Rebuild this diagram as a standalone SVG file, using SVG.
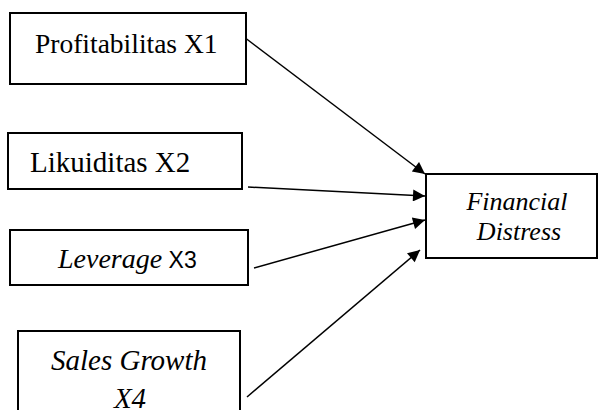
<svg xmlns="http://www.w3.org/2000/svg" width="598" height="410" viewBox="0 0 598 410">
<defs>
<style>
.box{fill:#fff;stroke:#000;stroke-width:2}
.t{font-family:"Liberation Serif","Times New Roman",serif;font-size:26px;fill:#000}
.i{font-style:italic}
.s{font-family:"Liberation Sans",Arial,sans-serif;font-size:23px;font-style:normal}
.c{stroke:#000;stroke-width:1.5;fill:none;marker-end:url(#ah)}
</style>
<marker id="ah" viewBox="0 0 10 10" refX="10" refY="5" markerWidth="15" markerHeight="12" markerUnits="userSpaceOnUse" orient="auto">
<path d="M0,0 L10,5 L0,10 Z" fill="#000"/>
</marker>
</defs>
<rect width="598" height="410" fill="#fff"/>
<g id="connectors">
<line class="c" x1="240" y1="34" x2="425" y2="174"/>
<line class="c" x1="248" y1="187" x2="425" y2="196"/>
<line class="c" x1="254" y1="268" x2="425" y2="220"/>
<line class="c" x1="247" y1="397" x2="420" y2="250"/>
</g>
<g id="profitabilitas">
<rect class="box" x="10" y="13" width="236" height="71"/>
<text class="t" x="35" y="53" style="font-size:27.5px">Profitabilitas X1</text>
</g>
<g id="likuiditas">
<rect class="box" x="8" y="133" width="234" height="56"/>
<text class="t" x="30" y="172" style="font-size:29px">Likuiditas X2</text>
</g>
<g id="leverage">
<rect class="box" x="10" y="230" width="238" height="55"/>
<text class="t" x="58" y="268" style="font-size:28px"><tspan class="i">Leverage</tspan><tspan class="s"> X3</tspan></text>
</g>
<g id="sales-growth">
<rect class="box" x="18" y="331" width="222" height="90"/>
<text class="t i" x="129" y="370" text-anchor="middle" style="font-size:29px">Sales Growth</text>
<text class="t i" x="130" y="408" text-anchor="middle" style="font-size:29px">X4</text>
</g>
<g id="financial-distress">
<rect class="box" x="426" y="174" width="171" height="84"/>
<text class="t i" x="517" y="210" text-anchor="middle">Financial</text>
<text class="t i" x="519" y="240" text-anchor="middle">Distress</text>
</g>
</svg>
